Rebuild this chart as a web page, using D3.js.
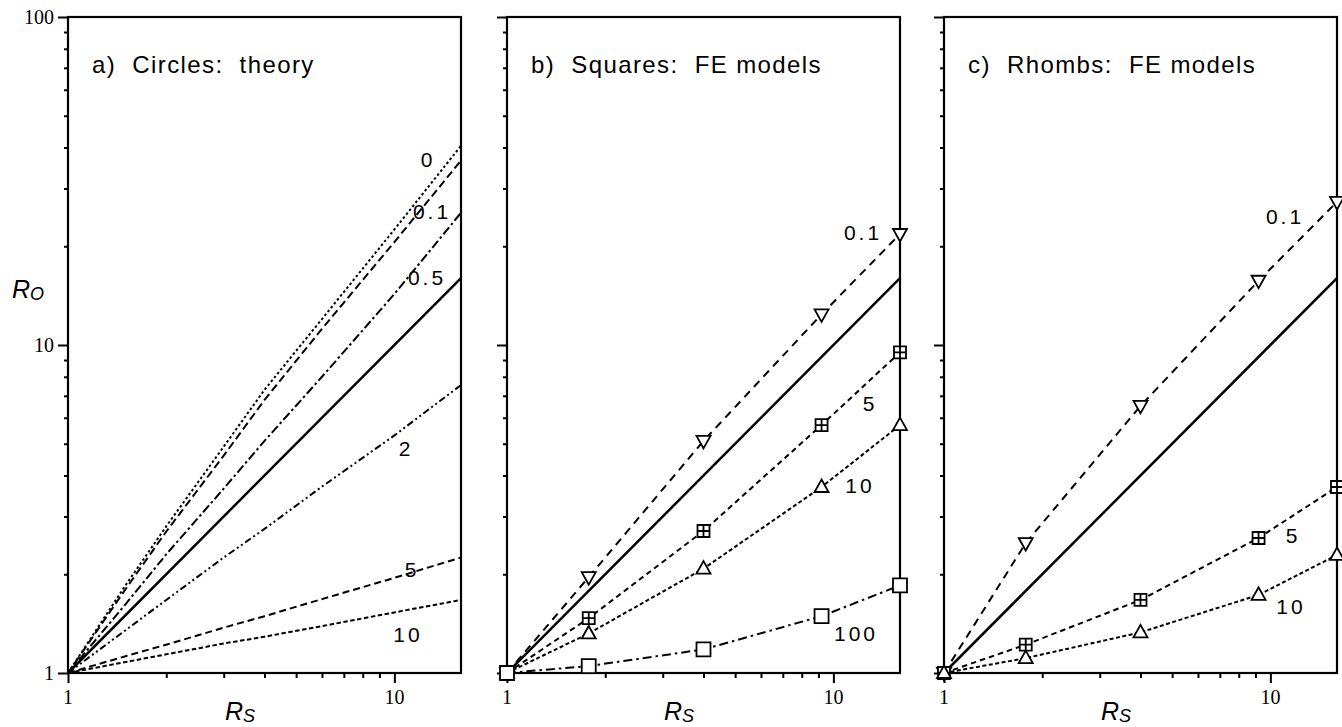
<!DOCTYPE html>
<html>
<head>
<meta charset="utf-8">
<script src="https://cdn.jsdelivr.net/npm/d3@7"></script>
<style>
  body { margin: 0; background: #fff; }
  svg { display: block; }
  .ticklabel { font-family: "Liberation Serif", "Times New Roman", serif; font-size: 20px; fill: #000; }
  .sans { font-family: "Liberation Sans", Arial, sans-serif; fill: #000; }
</style>
</head>
<body>
<div id="chart"></div>
<script>
// ---- data (R_S on x, R_O on y) ----
const rsTheory   = [1, 1.5, 2, 3, 4, 6, 10, 16];
const circles0   = [1, 1.85, 2.8, 4.9, 7.3, 12, 22.5, 40.5];
const circles01  = [1, 1.8, 2.7, 4.6, 6.8, 11.2, 20.6, 36.5];
const circles05  = [1, 1.62, 2.3, 3.65, 5.1, 8.0, 14.3, 25.3];
const circles2   = [1, 1.35, 1.67, 2.25, 2.75, 3.7, 5.3, 7.55];
const circles5   = [1, 1.125, 1.22, 1.375, 1.49, 1.68, 1.95, 2.25];
const circles10  = [1, 1.08, 1.14, 1.23, 1.29, 1.39, 1.53, 1.67];

const rsModel    = [1, 1.78, 4, 9.2, 16];
const squares01  = [1, 1.96, 5.1, 12.4, 21.8];
const squares5   = [1, 1.47, 2.71, 5.7, 9.5];
const squares10  = [1, 1.32, 2.08, 3.69, 5.7];
const squares100 = [1, 1.05, 1.18, 1.49, 1.85];
const rhombs01   = [1, 2.49, 6.52, 15.7, 27.3];
const rhombs5    = [1, 1.22, 1.67, 2.58, 3.69];
const rhombs10   = [1, 1.11, 1.33, 1.73, 2.29];

// reference line R_O = R_S
const rsRef = [1, 16];
const roRef = [1, 16];

const xTicks = [1, 10];
const xMinor = [2, 3, 4, 5, 6, 7, 8, 9];
const yTicks = [1, 10, 100];
const yMinor = [2, 3, 4, 5, 6, 7, 8, 9, 20, 30, 40, 50, 60, 70, 80, 90];

// ---- layout ----
const width = 1342, height = 727;
const plotTop = 17, plotBottom = 673, panelWidth = 393;

const panels = [
    {
        left: 68, title: "a)  Circles:  theory", yLabels: true,
        series: [
            { rs: rsTheory, ro: circles0,  dash: "2.5,2.5",      label: "0",   dx: -33, dy: 14 },
            { rs: rsTheory, ro: circles01, dash: "8,4",          label: "0.1", dx: -29, dy: 51 },
            { rs: rsTheory, ro: circles05, dash: "9,3,2.5,3",    label: "0.5", dx: -34, dy: 65 },
            { rs: rsTheory, ro: circles2,  dash: "7,3,2,3,2,3",  label: "2",   dx: -55, dy: 63 },
            { rs: rsTheory, ro: circles5,  dash: "7,4",          label: "5",   dx: -49, dy: 12 },
            { rs: rsTheory, ro: circles10, dash: "4.5,2.5",      label: "10",  dx: -53, dy: 35 }
        ]
    },
    {
        left: 507, title: "b)  Squares:  FE models", yLabels: false,
        series: [
            { rs: rsModel, ro: squares01,  dash: "8,6",       marker: "triDown",     label: "0.1", dx: -37, dy: -1 },
            { rs: rsModel, ro: squares5,   dash: "5.5,4",     marker: "crossSquare", label: "5",   dx: -30, dy: 51 },
            { rs: rsModel, ro: squares10,  dash: "4,2.5",     marker: "triUp",       label: "10",  dx: -40, dy: 60 },
            { rs: rsModel, ro: squares100, dash: "9,4,2.5,4", marker: "square",      label: "100", dx: -44, dy: 48 }
        ]
    },
    {
        left: 944, title: "c)  Rhombs:  FE models", yLabels: false,
        series: [
            { rs: rsModel, ro: rhombs01, dash: "8,6",   marker: "triDown",     label: "0.1", dx: -52, dy: 15 },
            { rs: rsModel, ro: rhombs5,  dash: "5.5,4", marker: "crossSquare", label: "5",   dx: -44, dy: 48 },
            { rs: rsModel, ro: rhombs10, dash: "4,2.5", marker: "triUp",       label: "10",  dx: -46, dy: 52 }
        ]
    }
];

function markerPath(type) {
    if (type === "square") return "M-7,-7H7V7H-7Z";
    if (type === "crossSquare") return "M-6,-6H6V6H-6ZM-6,0H6M0,-6V6";
    if (type === "triUp") return "M0,-7.5L7,5L-7,5Z";
    if (type === "triDown") return "M0,7.5L7,-5L-7,-5Z";
}

const svg = d3.select("#chart")
    .append("svg")
    .attr("width", width)
    .attr("height", height);

const yScale = d3.scaleLog().domain([1, 100]).range([plotBottom, plotTop]);

panels.forEach(p => {

    const xScale = d3.scaleLog().domain([1, 16]).range([p.left, p.left + panelWidth]);
    const g = svg.append("g");

    // ticks from d3 axes (lines only), labels drawn below
    g.append("g")
        .attr("transform", `translate(${p.left},0)`)
        .call(d3.axisLeft(yScale).tickValues(yTicks).tickSize(10).tickFormat(""));
    g.append("g")
        .attr("transform", `translate(${p.left},0)`)
        .call(d3.axisLeft(yScale).tickValues(yMinor).tickSize(4).tickFormat(""));
    g.append("g")
        .attr("transform", `translate(0,${plotBottom})`)
        .call(d3.axisBottom(xScale).tickValues(xTicks).tickSize(10).tickFormat(""));
    g.append("g")
        .attr("transform", `translate(0,${plotBottom})`)
        .call(d3.axisBottom(xScale).tickValues(xMinor).tickSize(5).tickFormat(""));

    g.selectAll(".domain").remove();
    g.selectAll(".tick text").remove();
    g.selectAll(".tick line").attr("stroke", "#000").attr("stroke-width", 2);

    if (p.yLabels) {
        g.selectAll(null)
            .data(yTicks)
            .enter()
            .append("text")
            .attr("class", "ticklabel")
            .attr("x", p.left - 14)
            .attr("y", d => yScale(d))
            .attr("dy", "0.34em")
            .attr("text-anchor", "end")
            .text(d => d);
    }

    g.selectAll(null)
        .data(xTicks)
        .enter()
        .append("text")
        .attr("class", "ticklabel")
        .attr("x", d => xScale(d))
        .attr("y", plotBottom + 31)
        .attr("text-anchor", "middle")
        .text(d => d);

    // frame
    g.append("rect")
        .attr("x", p.left)
        .attr("y", plotTop)
        .attr("width", panelWidth)
        .attr("height", plotBottom - plotTop)
        .attr("fill", "none")
        .attr("stroke", "#000")
        .attr("stroke-width", 2.2);

    // title
    g.append("text")
        .attr("class", "sans")
        .attr("x", p.left + 24)
        .attr("y", 73)
        .attr("xml:space", "preserve")
        .style("white-space", "pre")
        .style("font-size", "24px")
        .style("letter-spacing", "1.4px")
        .text(p.title);

    // x axis title R_S
    const xt = g.append("text")
        .attr("class", "sans")
        .attr("x", p.left + 172)
        .attr("y", 720)
        .attr("text-anchor", "middle")
        .style("font-style", "italic");
    xt.append("tspan").style("font-size", "25px").text("R");
    xt.append("tspan").style("font-size", "18px").attr("dy", 2).text("S");

    const line = d3.line()
        .x(d => xScale(d[0]))
        .y(d => yScale(d[1]));

    // reference line
    g.append("path")
        .datum(d3.zip(rsRef, roRef))
        .attr("d", line)
        .attr("fill", "none")
        .attr("stroke", "#000")
        .attr("stroke-width", 2.5);

    p.series.forEach(s => {
        const pts = d3.zip(s.rs, s.ro);

        g.append("path")
            .datum(pts)
            .attr("d", line)
            .attr("fill", "none")
            .attr("stroke", "#000")
            .attr("stroke-width", 2)
            .attr("stroke-dasharray", s.dash);

        if (s.marker) {
            g.selectAll(null)
                .data(pts)
                .enter()
                .append("path")
                .attr("transform", d => `translate(${xScale(d[0])},${yScale(d[1])})`)
                .attr("d", markerPath(s.marker))
                .attr("fill", "#fff")
                .attr("stroke", "#000")
                .attr("stroke-width", 1.8);
        }

        const last = pts[pts.length - 1];
        g.append("text")
            .attr("class", "sans")
            .attr("x", xScale(last[0]) + s.dx)
            .attr("y", yScale(last[1]) + s.dy)
            .attr("text-anchor", "middle")
            .attr("dominant-baseline", "central")
            .style("font-size", "21px")
            .style("letter-spacing", "3px")
            .text(s.label);
    });
});

// y axis title R_O
const yt = svg.append("text")
    .attr("class", "sans")
    .attr("x", 12)
    .attr("y", 298)
    .style("font-style", "italic");
yt.append("tspan").style("font-size", "25px").text("R");
yt.append("tspan").style("font-size", "18px").attr("dy", 2).text("O");
</script>
</body>
</html>
